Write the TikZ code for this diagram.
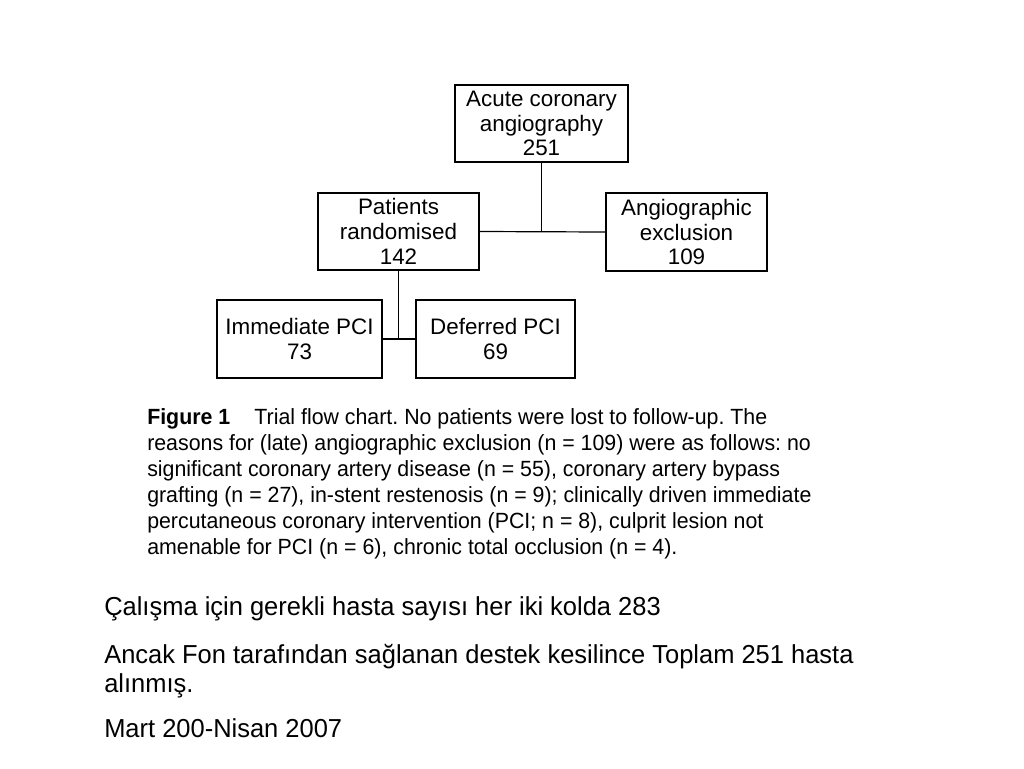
\documentclass[tikz,border=0pt]{standalone}
\usepackage{fontspec}
\setmainfont{Liberation Sans}
\newfontfamily\capfont[FakeStretch=0.97]{Liberation Sans}
\newfontfamily\slidefont[FakeStretch=0.98]{Liberation Sans}
\frenchspacing
\begin{document}
\begin{tikzpicture}[x=0.75pt, y=-0.75pt,
    box/.style={draw, line width=0.9pt, align=center, inner sep=0pt,
      font=\fontsize{16.8}{18.5}\selectfont},
    caption/.style={anchor=north west, inner sep=0pt, align=left,
      font=\capfont\fontsize{16.5}{19.5}\selectfont},
    slidetext/.style={anchor=north west, inner sep=0pt, align=left,
      font=\slidefont\fontsize{19.5}{21.8}\selectfont}]
    \useasboundingbox (0,0) rectangle (1024,768);

    % First row of nodes
    \node[box, minimum width=129.75pt, minimum height=57.75pt] (acute) at (541.5, 123.5)
      {Acute coronary\\angiography\\251};

    % Second row of nodes
    \node[box, minimum width=120.75pt, minimum height=57.75pt] (random) at (398.5, 231.5)
      {Patients\\randomised\\142};
    \node[box, minimum width=120.75pt, minimum height=58.5pt] (exclude) at (686.5, 232)
      {Angiographic\\exclusion\\109};

    % Third row of nodes
    \node[box, minimum width=123.75pt, minimum height=58.5pt] (immed) at (299.5, 339)
      {Immediate PCI\\73};
    \node[box, minimum width=119.25pt, minimum height=58.5pt] (defer) at (495.5, 339)
      {Deferred PCI\\69};

    % Edges between nodes
    \draw[line width=0.9pt] (acute.south) -- (acute.south |- exclude.west);
    \draw[line width=0.9pt] (random.east) -- (exclude.west);
    \draw[line width=0.9pt] (random.south) -- (random.south |- defer.west);
    \draw[line width=0.9pt] (immed.east) -- (defer.west);

    % Caption
    \node[caption] (cap) at (147, 408)
      {\textbf{Figure 1}\hspace{1.1em}Trial flow chart. No patients were lost to follow-up. The\\
       reasons for (late) angiographic exclusion (n = 109) were as follows: no\\
       significant coronary artery disease (n = 55), coronary artery bypass\\
       grafting (n = 27), in-stent restenosis (n = 9); clinically driven immediate\\
       percutaneous coronary intervention (PCI; n = 8), culprit lesion not\\
       amenable for PCI (n = 6), chronic total occlusion (n = 4).};

    % Slide text
    \node[slidetext] (need) at (104, 596)
      {Çalışma için gerekli hasta sayısı her iki kolda 283};
    \node[slidetext] (stop) at (104, 644)
      {Ancak Fon tarafından sağlanan destek kesilince Toplam 251 hasta\\alınmış.};
    \node[slidetext] (date) at (104, 718)
      {Mart 200-Nisan 2007};
\end{tikzpicture}
\end{document}
